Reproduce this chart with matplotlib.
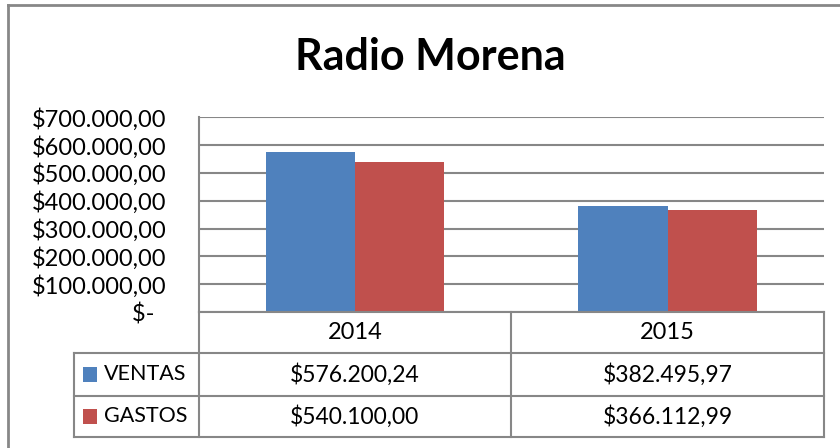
import numpy as np
import matplotlib.pyplot as plt
from matplotlib.lines import Line2D
from matplotlib.patches import Rectangle
from matplotlib.ticker import FuncFormatter

# --- data ---
years = ["2014", "2015"]
series_names = ["VENTAS", "GASTOS"]
ventas = [576200.24, 382495.97]
gastos = [540100.00, 366112.99]
y_ticks = [0, 100000, 200000, 300000, 400000, 500000, 600000, 700000]

colors = ["#4F81BD", "#C0504D"]
grey = "#878787"

plt.rcParams["font.family"] = ["Lato", "DejaVu Sans"]


def money(v, pos=None):
    if v == 0:
        return "$-  "
    s = f"{v:,.2f}"
    s = s.replace(",", "X").replace(".", ",").replace("X", ".")
    return "$" + s


W, H = 840, 448
fig = plt.figure(figsize=(W / 100, H / 100), dpi=100)

# plot area in pixel coordinates
px_left, px_right, px_top, px_bottom = 198.5, 824.0, 117.3, 312.0
ax = fig.add_axes([px_left / W, 1 - px_bottom / H,
                   (px_right - px_left) / W, (px_bottom - px_top) / H])

x = np.arange(len(years))
bw = 0.285
ax.bar(x - bw / 2, ventas, bw, color=colors[0], zorder=3)
ax.bar(x + bw / 2, gastos, bw, color=colors[1], zorder=3)

ax.set_xlim(-0.5, len(years) - 0.5)
ax.set_ylim(0, 700000)
ax.set_yticks(y_ticks)
ax.yaxis.set_major_formatter(FuncFormatter(money))
ax.tick_params(axis="y", length=0, pad=23, labelsize=17, labelcolor="black")
ax.set_xticks([])
ax.grid(axis="y", color=grey, linewidth=1.5, zorder=1)
ax.set_axisbelow(True)
for side in ["top", "right", "bottom"]:
    ax.spines[side].set_visible(False)
ax.spines["left"].set_color(grey)
ax.spines["left"].set_linewidth(1.5)

# --- data table under the plot ---
tr = ax.get_xaxis_transform()
unit = (px_right - px_left) / len(years)
lab_left = -0.5 - (px_left - 74) / unit
h = px_bottom - px_top
y_head = -(352.7 - px_bottom) / h
y_r1 = -(395.7 - px_bottom) / h
y_r2 = -(436.7 - px_bottom) / h
line_kw = dict(color=grey, linewidth=1.5, transform=tr, clip_on=False, zorder=5)

xe = np.arange(len(years) + 1) - 0.5
for xv in xe:
    ax.plot([xv, xv], [0, y_r2], **line_kw)
ax.plot([lab_left, lab_left], [y_head, y_r2], **line_kw)
ax.plot([xe[0], xe[-1]], [0, 0], **line_kw)
for yv in [y_head, y_r1, y_r2]:
    ax.plot([lab_left, xe[-1]], [yv, yv], **line_kw)

for i, yr in enumerate(years):
    ax.text(x[i], y_head / 2, yr, transform=tr, ha="center", va="center",
            fontsize=17, clip_on=False)

rows = [ventas, gastos]
row_y = [(y_head + y_r1) / 2, (y_r1 + y_r2) / 2]
key_w = 14.5 / unit
key_h = 15 / h
for r, (name, vals) in enumerate(zip(series_names, rows)):
    yc = row_y[r]
    ax.add_patch(Rectangle((lab_left + 8.5 / unit, yc - key_h / 2), key_w, key_h,
                           transform=tr, facecolor=colors[r], edgecolor="none",
                           clip_on=False))
    ax.text(lab_left + 29.5 / unit, yc, name, transform=tr, ha="left",
            va="center", fontsize=15.5, clip_on=False)
    for i, v in enumerate(vals):
        ax.text(x[i], yc, money(v), transform=tr, ha="center", va="center",
                fontsize=16.5, clip_on=False)

# title
fig.text(430 / W, 1 - 70 / H, "Radio Morena", ha="center", va="baseline",
         fontsize=31, fontweight="bold")

# chart border (left and top visible)
fig.add_artist(Line2D([8.3 / W, 8.3 / W], [0, 1 - 5 / H], color=grey, linewidth=2))
fig.add_artist(Line2D([8.3 / W, 1], [1 - 5 / H, 1 - 5 / H], color=grey, linewidth=2))

fig.savefig("out.png", dpi=100)
